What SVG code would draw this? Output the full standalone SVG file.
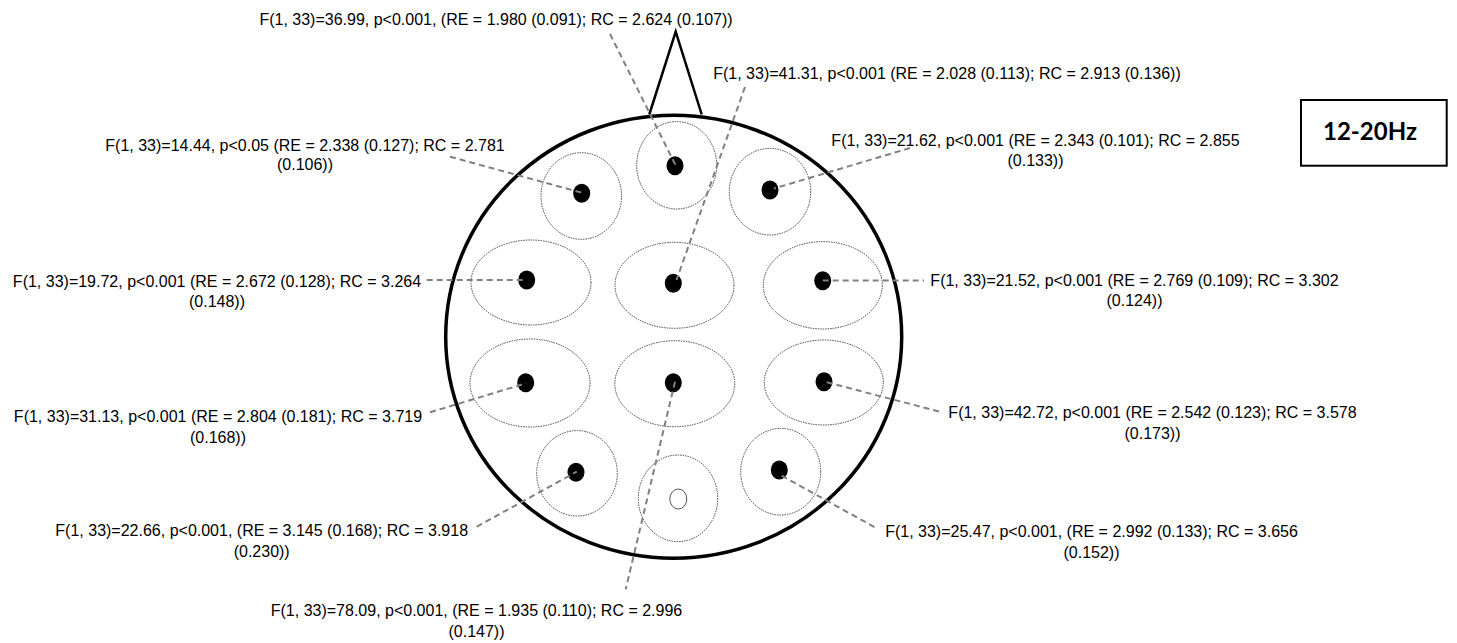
<svg xmlns="http://www.w3.org/2000/svg" width="1457" height="643" viewBox="0 0 1457 643">
<style>
.lbl{font-family:"Liberation Sans",Arial,sans-serif;font-size:16px;fill:#000;text-anchor:middle}
.ring{fill:none;stroke:#333;stroke-width:0.9;stroke-dasharray:1.5 1}
.dot{fill:#000}
.open{fill:#fff;stroke:#444;stroke-width:0.9}
.conn{stroke:#808080;stroke-width:2;stroke-dasharray:6 4;fill:none}
.head{fill:#fff;stroke:#000;stroke-width:3.5}
.nose{fill:none;stroke:#000;stroke-width:2.5;stroke-linejoin:miter}
.box{fill:#fff;stroke:#000;stroke-width:2}
.boxt{font-family:Lato,"Open Sans","Liberation Sans",sans-serif;font-weight:bold;font-size:24px;text-anchor:middle;fill:#000}
</style>
<rect width="1457" height="643" fill="#fff"/>
<g id="head">
<polyline class="nose" points="649.3,114.5 675.7,31.7 701.7,114.5"/>
<ellipse class="head" cx="673.7" cy="336.7" rx="228" ry="221.5"/>
</g>
<g id="e-tl"><ellipse class="ring" cx="581.3" cy="196" rx="40.3" ry="43.3"/><ellipse class="dot" cx="581.7" cy="193.3" rx="8.5" ry="9.5"/></g>
<g id="e-tc"><ellipse class="ring" cx="676.7" cy="165.3" rx="40" ry="43.7"/><ellipse class="dot" cx="675" cy="165.7" rx="8.5" ry="9.5"/></g>
<g id="e-tr"><ellipse class="ring" cx="770" cy="191.7" rx="40.7" ry="43.3"/><ellipse class="dot" cx="770" cy="190" rx="8.5" ry="9.5"/></g>
<g id="e-ml"><ellipse class="ring" cx="531" cy="282.5" rx="60" ry="42.5"/><ellipse class="dot" cx="526.7" cy="280" rx="8.5" ry="9.5"/></g>
<g id="e-mc"><ellipse class="ring" cx="674.5" cy="285.3" rx="59.5" ry="43"/><ellipse class="dot" cx="673.3" cy="283.3" rx="8.5" ry="9.5"/></g>
<g id="e-mr"><ellipse class="ring" cx="822.8" cy="285.3" rx="59.5" ry="43.7"/><ellipse class="dot" cx="822.7" cy="280.7" rx="8.5" ry="9.5"/></g>
<g id="e-ll"><ellipse class="ring" cx="530" cy="383" rx="60" ry="44"/><ellipse class="dot" cx="525.7" cy="382.7" rx="8.5" ry="9.5"/></g>
<g id="e-lc"><ellipse class="ring" cx="674.8" cy="383.7" rx="60" ry="43"/><ellipse class="dot" cx="673.3" cy="382.7" rx="8.5" ry="9.5"/></g>
<g id="e-lr"><ellipse class="ring" cx="823.8" cy="382.5" rx="59.5" ry="42.5"/><ellipse class="dot" cx="824" cy="381.7" rx="8.5" ry="9.5"/></g>
<g id="e-bl"><ellipse class="ring" cx="577" cy="473.3" rx="40.3" ry="42.7"/><ellipse class="dot" cx="576" cy="472.3" rx="8.5" ry="9.5"/></g>
<g id="e-bc"><ellipse class="ring" cx="678" cy="498.3" rx="39.7" ry="43.3"/><ellipse class="open" cx="678.3" cy="499" rx="8.5" ry="10"/></g>
<g id="e-br"><ellipse class="ring" cx="780.7" cy="471.7" rx="40" ry="43.3"/><ellipse class="dot" cx="779.3" cy="470" rx="8.5" ry="9.5"/></g>
<g id="connectors">
<line class="conn" x1="610" y1="34" x2="675.5" y2="165"/>
<line class="conn" x1="745" y1="87" x2="676.5" y2="280"/>
<line class="conn" x1="450" y1="156.7" x2="583" y2="193"/>
<line class="conn" x1="910" y1="148" x2="774" y2="188.5"/>
<line class="conn" x1="426.7" y1="280" x2="526.7" y2="280"/>
<line class="conn" x1="822.7" y1="280.5" x2="924" y2="280.5"/>
<line class="conn" x1="430" y1="412.3" x2="526" y2="383.3"/>
<line class="conn" x1="826.7" y1="382.3" x2="940" y2="411.7"/>
<line class="conn" x1="476.7" y1="526.7" x2="576.7" y2="471.7"/>
<line class="conn" x1="781.7" y1="475.7" x2="877" y2="528.5"/>
<line class="conn" x1="675" y1="381.7" x2="625.7" y2="589.3"/>
</g>
<g id="l-tc"><text class="lbl" x="496" y="25">F(1, 33)=36.99, p&lt;0.001, (RE = 1.980 (0.091); RC = 2.624 (0.107))</text></g>
<g id="l-mc"><text class="lbl" x="947" y="79">F(1, 33)=41.31, p&lt;0.001 (RE = 2.028 (0.113); RC = 2.913 (0.136))</text></g>
<g id="l-tl"><text class="lbl" x="305" y="150.5">F(1, 33)=14.44, p&lt;0.05 (RE = 2.338 (0.127); RC = 2.781</text><text class="lbl" x="305" y="169.5">(0.106))</text></g>
<g id="l-tr"><text class="lbl" x="1035.5" y="145.5">F(1, 33)=21.62, p&lt;0.001 (RE = 2.343 (0.101); RC = 2.855</text><text class="lbl" x="1035.5" y="166">(0.133))</text></g>
<g id="l-ml"><text class="lbl" x="217" y="287">F(1, 33)=19.72, p&lt;0.001 (RE = 2.672 (0.128); RC = 3.264</text><text class="lbl" x="217" y="307">(0.148))</text></g>
<g id="l-mr"><text class="lbl" x="1134.5" y="285.5">F(1, 33)=21.52, p&lt;0.001 (RE = 2.769 (0.109); RC = 3.302</text><text class="lbl" x="1134.5" y="305.5">(0.124))</text></g>
<g id="l-ll"><text class="lbl" x="218" y="422">F(1, 33)=31.13, p&lt;0.001 (RE = 2.804 (0.181); RC = 3.719</text><text class="lbl" x="218" y="443">(0.168))</text></g>
<g id="l-lr"><text class="lbl" x="1152.5" y="418">F(1, 33)=42.72, p&lt;0.001 (RE = 2.542 (0.123); RC = 3.578</text><text class="lbl" x="1152.5" y="439">(0.173))</text></g>
<g id="l-bl"><text class="lbl" x="261.7" y="535.5">F(1, 33)=22.66, p&lt;0.001, (RE = 3.145 (0.168); RC = 3.918</text><text class="lbl" x="261.7" y="557">(0.230))</text></g>
<g id="l-br"><text class="lbl" x="1091.5" y="537">F(1, 33)=25.47, p&lt;0.001, (RE = 2.992 (0.133); RC = 3.656</text><text class="lbl" x="1091.5" y="558">(0.152))</text></g>
<g id="l-bc"><text class="lbl" x="476.5" y="616">F(1, 33)=78.09, p&lt;0.001, (RE = 1.935 (0.110); RC = 2.996</text><text class="lbl" x="476.5" y="637">(0.147))</text></g>
<g id="band"><rect class="box" x="1301" y="100" width="145.7" height="65.7"/><text class="boxt" x="1370" y="140">12-20Hz</text></g>
</svg>
